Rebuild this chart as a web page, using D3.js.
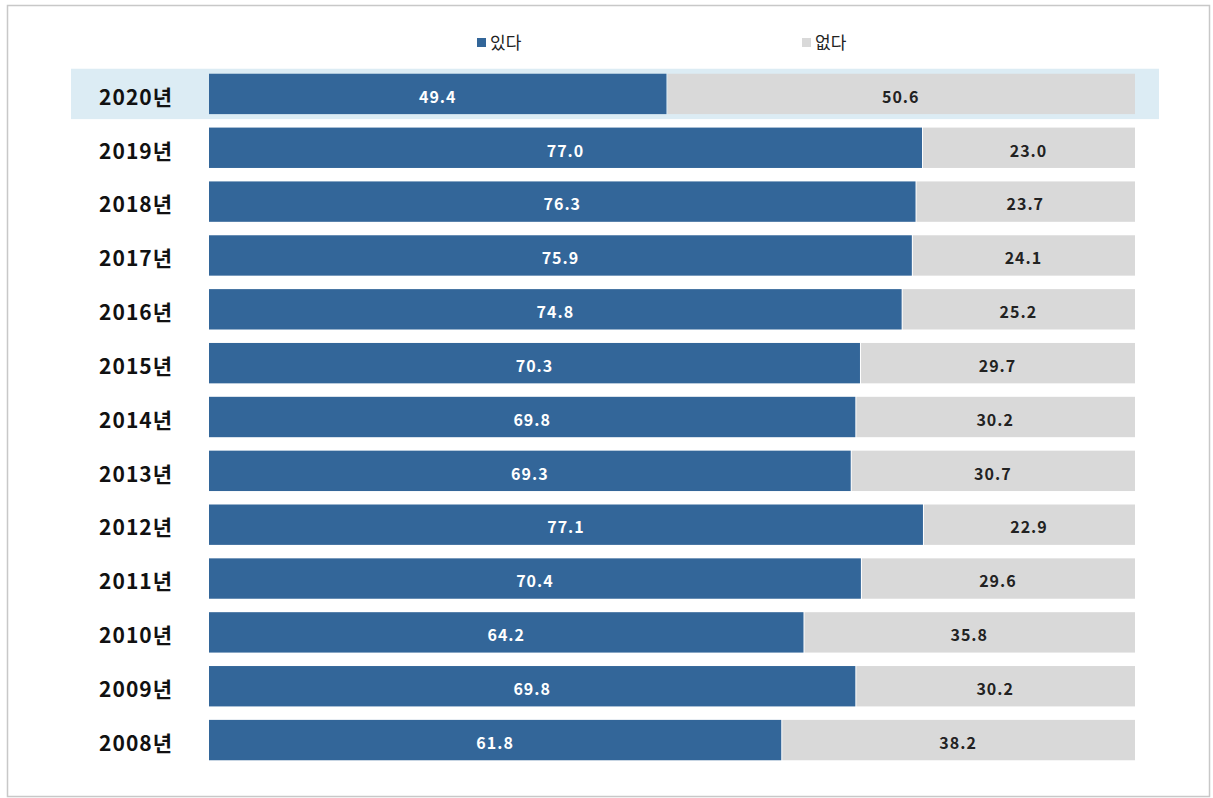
<!DOCTYPE html>
<html><head><meta charset="utf-8">
<script src="https://cdn.jsdelivr.net/npm/d3@7"></script>
<style>body{margin:0;background:#fff;}</style>
</head><body>
<svg id="c" width="1213" height="798"></svg>
<script>
const categories = ["2020년","2019년","2018년","2017년","2016년","2015년","2014년","2013년","2012년","2011년","2010년","2009년","2008년"];
const yesValues = [49.4,77.0,76.3,75.9,74.8,70.3,69.8,69.3,77.1,70.4,64.2,69.8,61.8];
const noValues  = [50.6,23.0,23.7,24.1,25.2,29.7,30.2,30.7,22.9,29.6,35.8,30.2,38.2];
const seriesNames = ["있다","없다"];
const colors = ["#336699","#d9d9d9"];
const highlighted = "2020년";

const svg = d3.select("#c");
const font = "'Noto Sans CJK KR','Noto Sans',sans-serif";

svg.append("rect").attr("x",7.5).attr("y",5.5).attr("width",1202).attr("height",791)
  .attr("fill","#fff").attr("stroke","#c8c8c8").attr("stroke-width",1.5);

const x = d3.scaleLinear().domain([0,100]).range([209,1135]);
const y = d3.scaleBand().domain(categories).range([67,767]).paddingInner(0.25).paddingOuter(0.125);

// highlight
svg.append("rect").attr("x",71).attr("y",y(highlighted)-5).attr("width",1088).attr("height",y.bandwidth()+10)
  .attr("fill","#dcecf4");

const rows = categories.map((c,i)=>({c, yes:yesValues[i], no:noValues[i]}));

const g = svg.append("g");
g.selectAll(".yes").data(rows).join("rect")
  .attr("x",x(0)).attr("y",d=>y(d.c)).attr("width",d=>x(d.yes)-x(0)).attr("height",y.bandwidth())
  .attr("fill",colors[0]);
g.selectAll(".no").data(rows).join("rect")
  .attr("x",d=>x(d.yes)+1).attr("y",d=>y(d.c)).attr("width",d=>x(d.yes+d.no)-x(d.yes)-1).attr("height",y.bandwidth())
  .attr("fill",colors[1]);

g.selectAll(".ly").data(rows).join("text")
  .attr("x",d=>(x(0)+x(d.yes))/2).attr("y",d=>y(d.c)+y.bandwidth()/2+3).attr("dy","0.36em")
  .attr("text-anchor","middle").attr("fill","#fff").attr("font-family",font).attr("font-weight","bold")
  .attr("font-size",16).attr("letter-spacing",1)
  .text(d=>d.yes.toFixed(1));
g.selectAll(".ln").data(rows).join("text")
  .attr("x",d=>(x(d.yes)+x(d.yes+d.no))/2).attr("y",d=>y(d.c)+y.bandwidth()/2+3).attr("dy","0.36em")
  .attr("text-anchor","middle").attr("fill","#222").attr("font-family",font).attr("font-weight","bold")
  .attr("font-size",16).attr("letter-spacing",1)
  .text(d=>d.no.toFixed(1));

const yAxis = d3.axisLeft(y).tickSize(0).tickPadding(0);
const ag = svg.append("g").attr("transform","translate(173,4)").call(yAxis);
ag.select(".domain").remove();
ag.selectAll("text").attr("font-family",font).attr("font-weight","bold").attr("font-size",21)
  .attr("letter-spacing",1).attr("fill","#111");

// legend
const legendX = [477, 802];
const lg = svg.append("g");
seriesNames.forEach((n,i)=>{
  lg.append("rect").attr("x",legendX[i]).attr("y",38).attr("width",9).attr("height",9).attr("fill",colors[i]);
  lg.append("text").attr("x",legendX[i]+13).attr("y",43).attr("dy","0.36em")
    .attr("font-family",font).attr("font-size",17).attr("fill","#222").text(n);
});
</script>
</body></html>
